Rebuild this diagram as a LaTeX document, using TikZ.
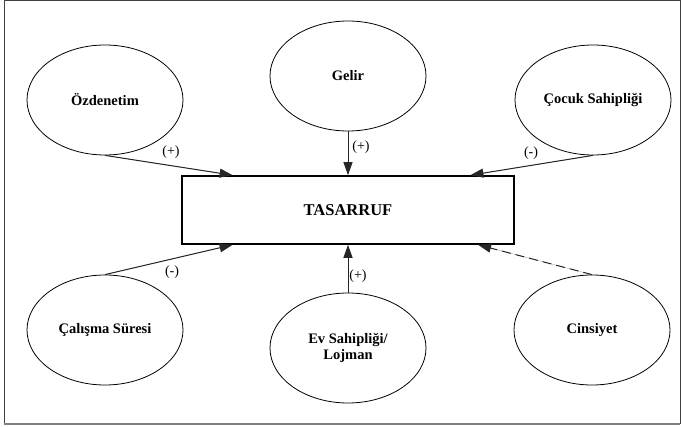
\documentclass[tikz,border=0pt]{standalone}
\usepackage{fontspec}
\setmainfont{Liberation Serif}
\usepackage{tikz}
\usetikzlibrary{
    arrows.meta,
    shapes.geometric,
    calc,
    positioning
}
\tikzset{
    factor/.style={draw, ellipse, line width=0.8pt, minimum width=156pt, minimum height=110pt,
        inner sep=0pt, align=center, font=\fontsize{14.5}{15.5}\selectfont\bfseries},
    effect/.style={-{Triangle[length=13pt, width=9pt]}, line width=1pt, draw=black!85, fill=black},
    sign/.style={font=\fontsize{14}{15}\selectfont}
}

\begin{document}
\begin{tikzpicture}[x=1pt, y=-1pt]
    \useasboundingbox (0, 0) rectangle (682, 427);
    \draw[black!75, line width=1pt] (4, 1) -- (4, 424) (4, 1) -- (680, 1) -- (680, 424);
    \draw[black!50, line width=2pt] (4, 424) -- (680, 424);
    \node[draw, line width=1.6pt, minimum width=332pt, minimum height=68pt,
        font=\fontsize{16.5}{17}\selectfont\bfseries] (tas) at (348, 210) {TASARRUF};
    \node[factor] (oz) at (105, 100) {Özdenetim};
    \node[factor] (gel) at (348, 76) {Gelir};
    \node[factor] (coc) at (593, 100) {Çocuk Sahipliği};
    \node[factor] (cal) at (105, 330) {Çalışma Süresi};
    \node[factor] (ev) at (348, 348) {Ev Sahipliği/\\Lojman};
    \node[factor] (cin) at (592, 330) {Cinsiyet};
    \coordinate (tnl) at ($(tas.north west)!0.154!(tas.north east)$);
    \coordinate (tnr) at ($(tas.north west)!0.867!(tas.north east)$);
    \coordinate (tsl) at ($(tas.south west)!0.154!(tas.south east)$);
    \coordinate (tsr) at ($(tas.south west)!0.89!(tas.south east)$);
    \foreach \from/\to in {oz.south/tnl, gel.south/tas.north, coc.south/tnr,
        cal.north/tsl, ev.north/tas.south}
        \draw[effect] (\from) -- (\to);
    \draw[effect, dashed, dash pattern=on 9pt off 5pt] (cin.north) -- (tsr);
    \node[sign] at (171, 152) {(+)};
    \node[sign] at (361, 147) {(+)};
    \node[sign] at (531, 153) {(-)};
    \node[sign] at (172, 272) {(-)};
    \node[sign] at (358, 276) {(+)};
\end{tikzpicture}
\end{document}
